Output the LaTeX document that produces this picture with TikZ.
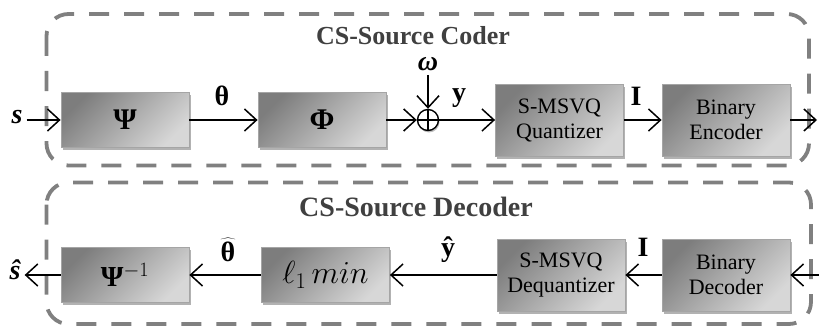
\RequirePackage{fix-cm}
\documentclass[tikz,border=0pt]{standalone}
\usepackage{fontspec}
\setmainfont{Liberation Serif}
\usetikzlibrary{arrows.meta,shadows}

\definecolor{framegray}{RGB}{128,128,128}
\definecolor{titlegray}{RGB}{64,64,64}
\definecolor{boxdark}{RGB}{125,125,125}
\definecolor{boxlight}{RGB}{215,215,215}
\definecolor{boxedge}{RGB}{165,165,165}

\tikzset{
  block/.style={draw=boxedge, line width=0.8pt,
    top color=boxdark, bottom color=boxlight, shading angle=45,
    minimum width=128pt, minimum height=55pt, inner sep=0pt, align=center,
    font=\fontsize{22}{25}\selectfont,
    drop shadow={shadow xshift=1.5pt, shadow yshift=-2.5pt, opacity=0.3, fill=black}},
  tallblock/.style={block, minimum height=72pt},
  container/.style={draw=framegray, line width=3.8pt, dash pattern=on 20pt off 15pt,
    rounded corners=22pt},
  title/.style={text=titlegray, font=\fontsize{26}{28}\selectfont\bfseries},
  sig/.style={font=\fontsize{28}{30}\selectfont\bfseries, inner sep=0pt},
  sigit/.style={sig, font=\fontsize{28}{30}\selectfont\bfseries\itshape},
  flow/.style={line width=1.5pt, -{Straight Barb[length=12pt,width=22pt,line width=1.5pt]}},
}

\begin{document}
\begin{tikzpicture}[x=1pt,y=-1pt]
\useasboundingbox (0,0) rectangle (819,329);

% dashed frames of the two sub-systems
\draw[container] (46.5,14) rectangle (809,165.5);
\draw[container] (46.5,182.5) rectangle (811,324);

\node[title] (ctitle) at (413,36) {CS-Source Coder};
\node[title, font=\fontsize{28}{30}\selectfont\bfseries] (dtitle) at (416,207) {CS-Source Decoder};

% coder chain
\node[block] (psi) at (125,120) {\textbf{\fontsize{30}{32}\selectfont Ψ}};
\node[block] (phi) at (322,120) {\textbf{\fontsize{30}{32}\selectfont Φ}};
\node[draw, circle, fill=white, minimum size=21pt, inner sep=0pt, line width=1.4pt,
  drop shadow={shadow xshift=1pt, shadow yshift=-2pt, opacity=0.25, fill=black}] (sum) at (428,120) {};
\draw[line width=1.4pt] (sum.north) -- (sum.south) (sum.west) -- (sum.east);
\node[tallblock] (quant) at (559.5,120) {S-MSVQ\\Quantizer};
\node[tallblock] (enc) at (726,120) {Binary\\Encoder};
\coordinate (out) at (817,120);

\node[sigit] (s) at (17,117) {s};
\node[sigit] (omega) at (428,64) {ω};

\draw[flow] ([xshift=4pt]s.east |- psi) -- (psi);
\draw[flow] (psi) -- (phi);
\draw[flow] (phi) -- (sum);
\draw[flow] ([yshift=-4pt]omega.south) -- (sum);
\draw[flow] (sum) -- (quant);
\draw[flow] (quant) -- (enc);
\draw[flow] (enc) -- (out);

\node[sig] (theta) at (222,96) {θ};
\node[sig] (yv) at (459,98) {y};
\node[sig] (idx) at (636,96) {I};

% decoder chain
\node[block] (psiinv) at (125,275) {\fontsize{29}{32}\selectfont\textbf{Ψ}$^{-1}$};
\node[block] (lmin) at (325.5,275) {\fontsize{32}{36}\selectfont$\ell_1\,min$};
\node[tallblock] (dequant) at (561,275) {S-MSVQ\\Dequantizer};
\node[tallblock] (dec) at (726,275) {Binary\\Decoder};
\coordinate (in) at (819,275);

\node[sigit] (shat) at (15,270) {ŝ};

\draw[flow] (in) -- (dec);
\draw[flow] (dec) -- (dequant);
\draw[flow] (dequant) -- (lmin);
\draw[flow] (lmin) -- (psiinv);
\draw[flow] (psiinv) -- ([xshift=4pt]shat.east |- psiinv);

\node[sig] (idx2) at (643,247) {I};
\node[sig] (yhat) at (448,250) {ŷ};
\node[sig] (thetahat) at (228,250) {$\widehat{\mbox{\textbf{θ}}}$};
\end{tikzpicture}
\end{document}
